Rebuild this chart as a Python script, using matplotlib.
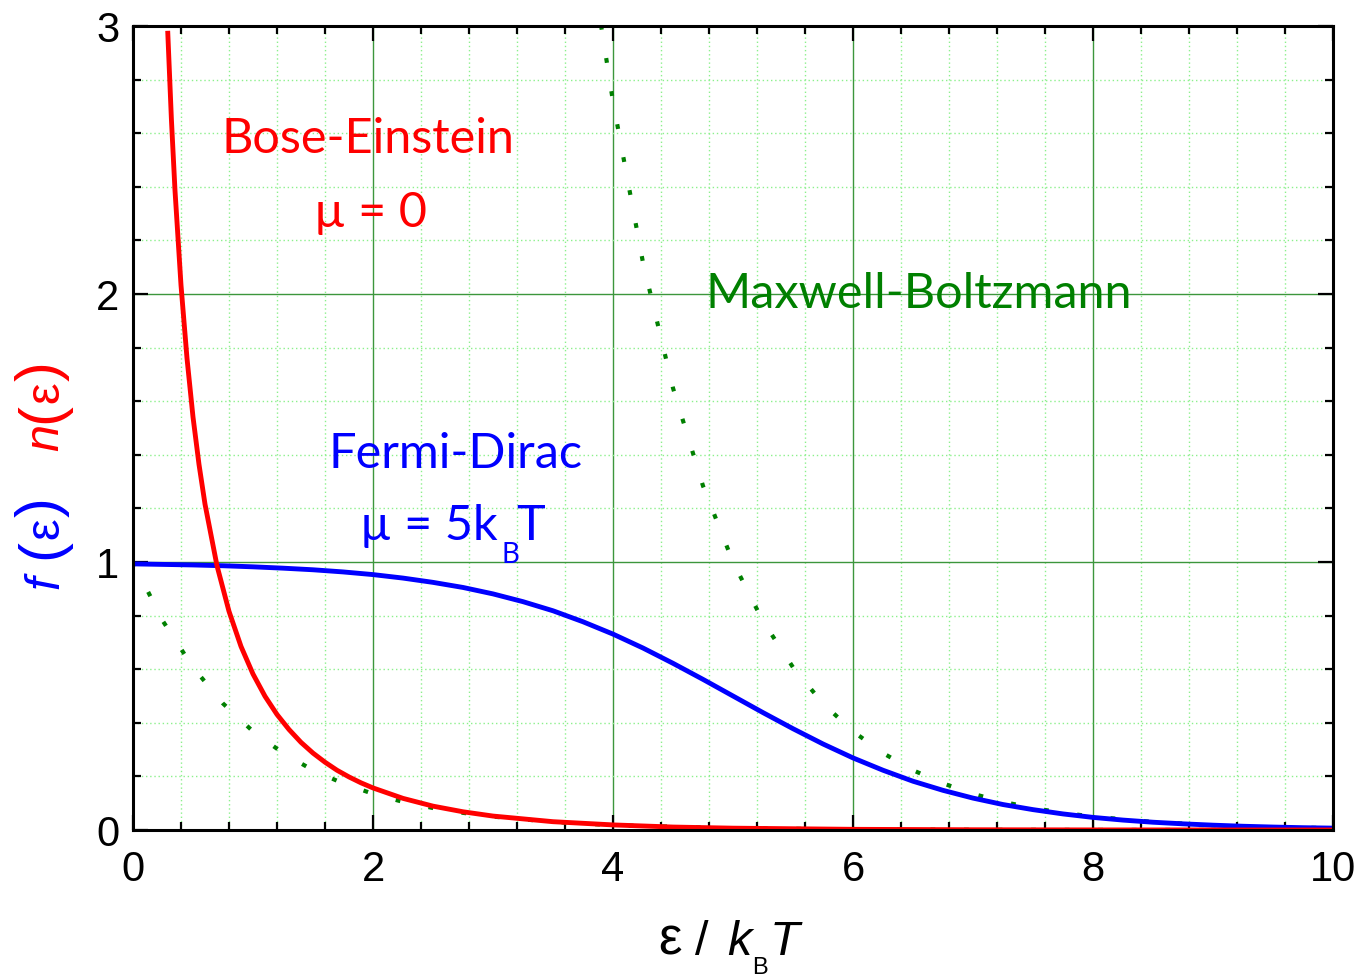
import matplotlib
matplotlib.use('Agg')
import matplotlib.pyplot as plt
from matplotlib.ticker import MultipleLocator

label_font = ['Lato', 'Noto Sans', 'DejaVu Sans']
arial = ['Liberation Sans', 'DejaVu Sans']

# Bose-Einstein occupancy, mu = 0
be_x = [0.29, 0.32, 0.35, 0.40, 0.45, 0.50, 0.55, 0.60, 0.70, 0.80, 0.90, 1.0,
        1.1, 1.2, 1.3, 1.4, 1.5, 1.6, 1.7, 1.8, 1.9, 2.0, 2.25, 2.5, 2.75, 3.0,
        3.5, 4.0, 4.5, 5.0, 6.0, 7.0, 8.0, 9.0, 10.0]
be_n = [2.973, 2.652, 2.386, 2.033, 1.760, 1.541, 1.364, 1.216, 0.986, 0.816, 0.685, 0.582,
        0.499, 0.431, 0.375, 0.327, 0.287, 0.253, 0.223, 0.198, 0.176, 0.157, 0.118, 0.089, 0.068, 0.052,
        0.031, 0.019, 0.011, 0.0068, 0.0025, 0.0009, 0.0003, 0.0001, 0.0]

# Fermi-Dirac occupancy, mu = 5 kT
fd_x = [0.0, 0.25, 0.5, 0.75, 1.0, 1.25, 1.5, 1.75, 2.0, 2.25, 2.5, 2.75, 3.0, 3.25, 3.5, 3.75,
        4.0, 4.25, 4.5, 4.75, 5.0, 5.25, 5.5, 5.75, 6.0, 6.25, 6.5, 6.75, 7.0, 7.25, 7.5, 7.75,
        8.0, 8.25, 8.5, 8.75, 9.0, 9.25, 9.5, 9.75, 10.0]
fd_f = [0.993, 0.991, 0.989, 0.986, 0.982, 0.977, 0.971, 0.963, 0.953, 0.940, 0.924, 0.905,
        0.881, 0.852, 0.818, 0.777, 0.731, 0.679, 0.622, 0.562, 0.500, 0.438, 0.378, 0.321,
        0.269, 0.223, 0.182, 0.148, 0.119, 0.095, 0.076, 0.060, 0.047, 0.037, 0.029, 0.023,
        0.018, 0.014, 0.011, 0.0086, 0.007]

# Maxwell-Boltzmann, mu = 5 kT and mu = 0
mb_hi_x = [3.90, 4.0, 4.25, 4.5, 4.75, 5.0, 5.25, 5.5, 5.75, 6.0, 6.25, 6.5, 6.75, 7.0,
           7.25, 7.5, 7.75, 8.0, 8.5, 9.0, 9.5, 10.0]
mb_hi_y = [3.004, 2.718, 2.117, 1.649, 1.284, 1.000, 0.779, 0.607, 0.472, 0.368, 0.287, 0.223, 0.174, 0.135,
           0.105, 0.082, 0.064, 0.050, 0.030, 0.018, 0.011, 0.0067]
mb_lo_x = [0.0, 0.25, 0.5, 0.75, 1.0, 1.25, 1.5, 1.75, 2.0, 2.25, 2.5, 2.75, 3.0, 3.5, 4.0,
           5.0, 6.0, 7.0, 8.0, 10.0]
mb_lo_y = [1.000, 0.779, 0.607, 0.472, 0.368, 0.287, 0.223, 0.174, 0.135, 0.105, 0.082, 0.064, 0.050, 0.030, 0.018,
           0.0067, 0.0025, 0.0009, 0.0003, 0.0]

x_ticks = [0, 2, 4, 6, 8, 10]
y_ticks = [0, 1, 2, 3]

W, H = 1363, 979
fig = plt.figure(figsize=(W / 100, H / 100), dpi=100)
ax = fig.add_axes([133 / W, 1 - 831 / H, 1200 / W, 804 / H])


def px(x, y):
    # pixel position (from top left) -> figure fraction
    return x / W, 1 - y / H


green = '#008000'
blue = '#0000ff'
red = '#ff0000'
dots = (0, (1.15, 6.9))
ax.plot(mb_lo_x, mb_lo_y, color=green, lw=3.0, ls=dots, dash_capstyle='butt', zorder=3)
ax.plot(mb_hi_x, mb_hi_y, color=green, lw=3.0, ls=dots, dash_capstyle='butt', zorder=3)
ax.plot(fd_x, fd_f, color=blue, lw=3.5, zorder=4)
ax.plot(be_x, be_n, color=red, lw=3.5, zorder=5)

ax.set_xlim(0, 10)
ax.set_ylim(0, 3)
ax.set_xticks(x_ticks)
ax.set_yticks(y_ticks)
ax.set_xticklabels([str(t) for t in x_ticks], family=arial, fontsize=30)
ax.set_yticklabels([str(t) for t in y_ticks], family=arial, fontsize=30)
ax.xaxis.set_minor_locator(MultipleLocator(0.4))
ax.yaxis.set_minor_locator(MultipleLocator(0.2))
ax.tick_params(which='both', direction='in', top=True, right=True, width=1.6, color='black')
ax.tick_params(which='major', length=11)
ax.tick_params(which='minor', length=6)
ax.tick_params(axis='x', which='major', pad=14)
ax.tick_params(axis='y', which='major', pad=10)
for s in ax.spines.values():
    s.set_linewidth(2.2)
    s.set_zorder(6)

ax.grid(which='major', color='#3c963c', lw=1.0)
ax.grid(which='minor', color='#8cf08c', lw=1.0, ls=(0, (1, 2)))
ax.set_axisbelow(True)

# curve annotations
txt = dict(family=label_font, fontsize=35, va='baseline')
fig.text(*px(368, 153), 'Bose-Einstein', color=red, ha='center', **txt)
fig.text(*px(370, 227), 'µ = 0', color=red, ha='center', **txt)
fig.text(*px(919, 308), 'Maxwell-Boltzmann', color=green, ha='center', **txt)
fig.text(*px(456, 468), 'Fermi-Dirac', color=blue, ha='center', **txt)
fig.text(*px(498, 540), 'µ = 5k', color=blue, ha='right', **txt)
fig.text(*px(501, 563), 'B', color=blue, ha='left', va='baseline', family=label_font, fontsize=20)
fig.text(*px(516, 540), 'T', color=blue, ha='left', **txt)

# y axis label: f(ε) in blue, n(ε) in red, reading bottom to top
ylab = dict(rotation=90, rotation_mode='anchor', ha='center', va='baseline', family=arial)
for y, s, size, style, c in [(582, 'f', 35, 'italic', blue), (549, '(', 43, 'normal', blue),
                             (528, 'ε', 35, 'normal', blue), (507, ')', 43, 'normal', blue),
                             (438, 'n', 35, 'italic', red), (413, '(', 43, 'normal', red),
                             (392, 'ε', 35, 'normal', red), (371, ')', 43, 'normal', red)]:
    fig.text(*px(58, y), s, color=c, fontsize=size, style=style, **ylab)

# x axis label: ε / k_B T
xlab = dict(ha='center', va='baseline', family=arial, color='black')
fig.text(*px(670, 955), 'ε', fontsize=38, **xlab)
fig.text(*px(702, 955), '/', fontsize=35, **xlab)
fig.text(*px(739, 955), 'k', fontsize=35, style='italic', **xlab)
fig.text(*px(760, 974), 'B', fontsize=17, **xlab)
fig.text(*px(785, 955), 'T', fontsize=35, style='italic', **xlab)

fig.savefig('out.png', dpi=100)
